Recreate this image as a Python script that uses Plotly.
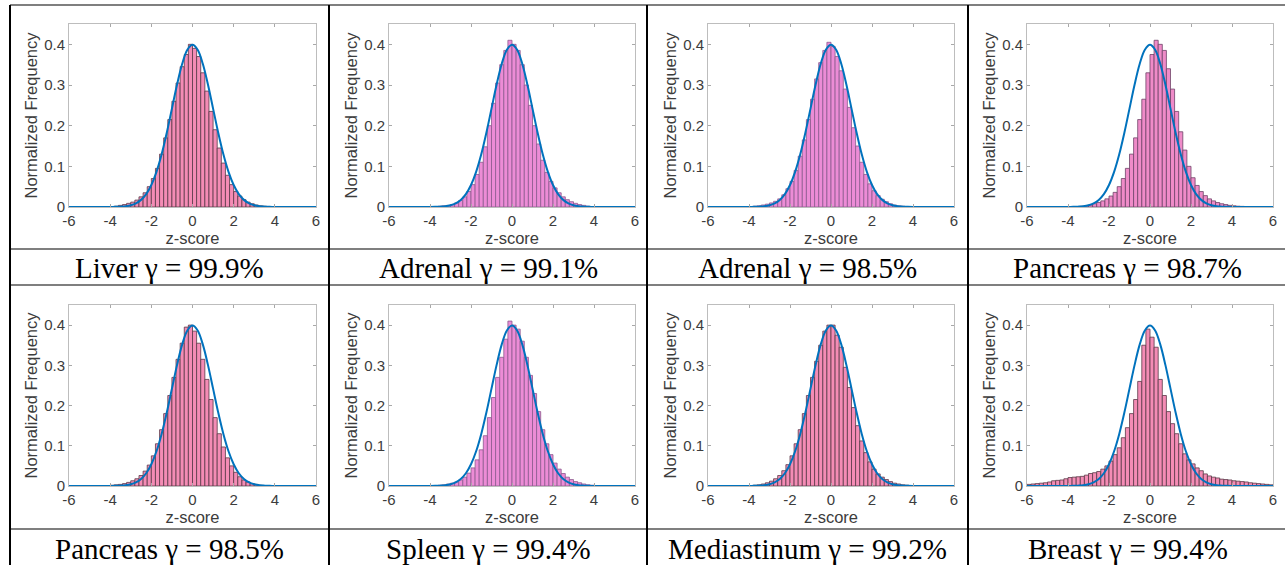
import plotly.graph_objects as go

# ---------------- data ----------------
bin_centers = [-5.9, -5.7, -5.5, -5.3, -5.1, -4.9, -4.7, -4.5, -4.3, -4.1,
               -3.9, -3.7, -3.5, -3.3, -3.1, -2.9, -2.7, -2.5, -2.3, -2.1,
               -1.9, -1.7, -1.5, -1.3, -1.1, -0.9, -0.7, -0.5, -0.3, -0.1,
               0.1, 0.3, 0.5, 0.7, 0.9, 1.1, 1.3, 1.5, 1.7, 1.9,
               2.1, 2.3, 2.5, 2.7, 2.9, 3.1, 3.3, 3.5, 3.7, 3.9,
               4.1, 4.3, 4.5, 4.7, 4.9, 5.1, 5.3, 5.5, 5.7, 5.9]

liver_999 = [0, 0, 0, 0, 0, 0, 0, 0,
             0, 0, 0.001, 0.002, 0.004, 0.006, 0.009, 0.012, 0.017, 0.025, 0.035, 0.05,
             0.07, 0.095, 0.13, 0.17, 0.215, 0.26, 0.305, 0.345, 0.375, 0.40,
             0.39, 0.37, 0.33, 0.285, 0.235, 0.19, 0.145, 0.108, 0.078, 0.055,
             0.038, 0.027, 0.018, 0.012, 0.008, 0.005, 0.003, 0.002, 0.001, 0, 0, 0,
             0, 0, 0, 0, 0, 0, 0, 0]

adrenal_991 = [0, 0, 0, 0, 0, 0, 0, 0,
               0, 0, 0, 0.001, 0.002, 0.003, 0.004, 0.006, 0.01, 0.016, 0.025, 0.038,
               0.055, 0.08, 0.11, 0.148, 0.20, 0.255, 0.305, 0.35, 0.385, 0.41,
               0.40, 0.385, 0.35, 0.30, 0.25, 0.20, 0.155, 0.115, 0.085, 0.063,
               0.047, 0.035, 0.025, 0.018, 0.013, 0.009, 0.006, 0.004, 0.002, 0.001, 0.001, 0,
               0, 0, 0, 0, 0, 0, 0, 0]

adrenal_985 = [0, 0, 0, 0, 0, 0, 0, 0,
               0, 0.001, 0.001, 0.002, 0.003, 0.005, 0.007, 0.01, 0.014, 0.02, 0.03, 0.045,
               0.063, 0.09, 0.125, 0.165, 0.215, 0.265, 0.315, 0.355, 0.385, 0.405,
               0.395, 0.37, 0.335, 0.29, 0.245, 0.195, 0.15, 0.11, 0.08, 0.057,
               0.04, 0.028, 0.019, 0.013, 0.008, 0.005, 0.003, 0.002, 0.001, 0, 0, 0,
               0, 0, 0, 0, 0, 0, 0, 0]

pancreas_987 = [0, 0, 0, 0, 0, 0, 0, 0,
                0, 0, 0, 0, 0.001, 0.002, 0.003, 0.005, 0.008, 0.011, 0.015, 0.02,
                0.027, 0.036, 0.05, 0.07, 0.095, 0.13, 0.17, 0.215, 0.265, 0.33,
                0.375, 0.41, 0.40, 0.385, 0.34, 0.29, 0.235, 0.185, 0.14, 0.10,
                0.072, 0.053, 0.038, 0.028, 0.02, 0.015, 0.011, 0.008, 0.006, 0.004, 0.003, 0.002,
                0.0015, 0.001, 0.0005, 0, 0, 0, 0, 0]

pancreas_985 = [0, 0, 0, 0, 0, 0, 0, 0,
                0, 0.001, 0.002, 0.003, 0.004, 0.006, 0.009, 0.013, 0.018, 0.026, 0.037, 0.052,
                0.075, 0.105, 0.14, 0.18, 0.225, 0.27, 0.315, 0.355, 0.395, 0.40,
                0.385, 0.355, 0.315, 0.265, 0.215, 0.17, 0.13, 0.097, 0.07, 0.05,
                0.034, 0.023, 0.015, 0.01, 0.006, 0.004, 0.002, 0.001, 0, 0, 0, 0,
                0, 0, 0, 0, 0, 0, 0, 0]

spleen_994 = [0, 0, 0, 0, 0, 0, 0, 0,
              0, 0, 0.001, 0.001, 0.002, 0.003, 0.005, 0.007, 0.01, 0.015, 0.022, 0.032,
              0.045, 0.065, 0.09, 0.125, 0.17, 0.22, 0.27, 0.32, 0.365, 0.41,
              0.40, 0.39, 0.36, 0.32, 0.275, 0.23, 0.185, 0.14, 0.105, 0.078,
              0.057, 0.042, 0.031, 0.022, 0.016, 0.011, 0.008, 0.005, 0.003, 0.002, 0.001, 0,
              0, 0, 0, 0, 0, 0, 0, 0]

mediastinum_992 = [0, 0, 0, 0, 0, 0, 0, 0,
                   0, 0, 0.001, 0.002, 0.003, 0.005, 0.008, 0.012, 0.018, 0.026, 0.038, 0.053,
                   0.075, 0.105, 0.14, 0.18, 0.225, 0.27, 0.31, 0.35, 0.385, 0.40,
                   0.40, 0.375, 0.345, 0.295, 0.245, 0.195, 0.15, 0.112, 0.083, 0.06,
                   0.042, 0.03, 0.022, 0.016, 0.011, 0.007, 0.005, 0.003, 0.002, 0.001, 0, 0,
                   0, 0, 0, 0, 0, 0, 0, 0]

breast_994 = [0.004, 0.005, 0.006, 0.007, 0.008, 0.01, 0.013, 0.014, 0.015, 0.018,
              0.021, 0.022, 0.023, 0.024, 0.027, 0.031, 0.033, 0.036, 0.042, 0.05,
              0.062, 0.078, 0.095, 0.12, 0.145, 0.18, 0.215, 0.26, 0.35, 0.39,
              0.37, 0.345, 0.265, 0.225, 0.185, 0.155, 0.13, 0.105, 0.08, 0.065,
              0.055, 0.045, 0.038, 0.03, 0.025, 0.022, 0.02, 0.017, 0.016, 0.015,
              0.013, 0.012, 0.011, 0.01, 0.008, 0.007, 0.006, 0.005, 0.004, 0.003]

curve_z = [-6.0, -5.75, -5.5, -5.25, -5.0, -4.75, -4.5, -4.25, -4.0, -3.75,
           -3.5, -3.25, -3.0, -2.75, -2.5, -2.25, -2.0, -1.75, -1.5, -1.25,
           -1.0, -0.75, -0.5, -0.25, 0.0, 0.25, 0.5, 0.75, 1.0, 1.25,
           1.5, 1.75, 2.0, 2.25, 2.5, 2.75, 3.0, 3.25, 3.5, 3.75,
           4.0, 4.25, 4.5, 4.75, 5.0, 5.25, 5.5, 5.75, 6.0]
curve_pdf = [0, 0, 0, 0, 0, 0, 0, 0, 0.0001, 0.0004,
             0.0009, 0.0020, 0.0044, 0.0091, 0.0175, 0.0317, 0.0540, 0.0863, 0.1295, 0.1826,
             0.2420, 0.3011, 0.3521, 0.3867, 0.3989, 0.3867, 0.3521, 0.3011, 0.2420, 0.1826,
             0.1295, 0.0863, 0.0540, 0.0317, 0.0175, 0.0091, 0.0044, 0.0020, 0.0009, 0.0004,
             0.0001, 0, 0, 0, 0, 0, 0, 0, 0]

captions = ["Liver \u03b3 = 99.9%", "Adrenal \u03b3 = 99.1%", "Adrenal \u03b3 = 98.5%",
            "Pancreas \u03b3 = 98.7%", "Pancreas \u03b3 = 98.5%", "Spleen \u03b3 = 99.4%",
            "Mediastinum \u03b3 = 99.2%", "Breast \u03b3 = 99.4%"]
panel_values = [liver_999, adrenal_991, adrenal_985, pancreas_987,
                pancreas_985, spleen_994, mediastinum_992, breast_994]

x_ticks = [-6, -4, -2, 0, 2, 4, 6]
x_ticktext = ["-6", "-4", "-2", "0", "2", "4", "6"]
y_ticks = [0, 0.1, 0.2, 0.3, 0.4]
y_ticktext = ["0", "0.1", "0.2", "0.3", "0.4"]

for v in panel_values:
    assert len(v) == len(bin_centers)
assert len(curve_z) == len(curve_pdf)

# ---------------- styling / layout ----------------
W, H = 1285, 565
col_px = [(69, 316), (389, 635), (708, 954), (1027, 1273)]
row_px = [(24, 207), (305, 486)]
cell_x = [10, 329, 647, 968, 1287]
caption_y = [268, 549]
fills = ["#f48cb5", "#ec8cd6", "#ec8cd6", "#ef8bc8",
         "#f48cb5", "#ec8cd6", "#f48cb5", "#f48cb5"]
edges = ["#5a3848", "#8c5a8e", "#8c5a8e", "#6e4468",
         "#5a3848", "#8c5a8e", "#5a3848", "#5a3848"]

tick_font = dict(family="Liberation Sans, Arial, sans-serif", size=15, color="#3c3c3c")
title_font = dict(family="Liberation Sans, Arial, sans-serif", size=16.5, color="#3c3c3c")

fig = go.Figure()
layout_axes = {}
annotations = []
for i, vals in enumerate(panel_values):
    r, c = divmod(i, 4)
    n = i + 1
    xa = "x" if n == 1 else f"x{n}"
    ya = "y" if n == 1 else f"y{n}"
    fig.add_trace(go.Bar(x=bin_centers, y=vals, width=0.2,
                         marker=dict(color=fills[i], line=dict(color=edges[i], width=0.8)),
                         xaxis=xa, yaxis=ya, showlegend=False, hoverinfo="skip"))
    fig.add_trace(go.Scatter(x=curve_z, y=curve_pdf, mode="lines",
                             line=dict(color="#0072BD", width=2, shape="spline"),
                             xaxis=xa, yaxis=ya, showlegend=False, hoverinfo="skip"))
    x0, x1 = col_px[c]
    y0, y1 = row_px[r]
    common = dict(ticks="inside", ticklen=3, tickcolor="#a8a8a8", showline=True,
                  linecolor="#bdbdbd", linewidth=1, mirror="ticks", showgrid=False,
                  zeroline=False, automargin=False, tickfont=tick_font)
    layout_axes["xaxis" if n == 1 else f"xaxis{n}"] = dict(
        domain=[x0 / W, x1 / W], anchor=ya, range=[-6, 6],
        tickvals=x_ticks, ticktext=x_ticktext,
        title=dict(text="z-score", font=title_font, standoff=2), **common)
    layout_axes["yaxis" if n == 1 else f"yaxis{n}"] = dict(
        domain=[1 - y1 / H, 1 - y0 / H], anchor=xa, range=[0, 0.45],
        tickvals=y_ticks, ticktext=y_ticktext,
        title=dict(text="Normalized Frequency", font=title_font, standoff=2), **common)
    annotations.append(dict(
        text=captions[i], xref="paper", yref="paper",
        x=(cell_x[c] + cell_x[c + 1]) / 2 / W, y=1 - caption_y[r] / H,
        xanchor="center", yanchor="middle", showarrow=False,
        font=dict(family="Liberation Serif, Times New Roman, serif", size=29, color="#000000")))

shapes = []
for py in [5, 249, 285, 529]:
    shapes.append(dict(type="line", xref="paper", yref="paper",
                       x0=10 / W, x1=1.0, y0=1 - py / H, y1=1 - py / H,
                       line=dict(color="#000000", width=1.2)))
for px in cell_x[:4]:
    shapes.append(dict(type="line", xref="paper", yref="paper",
                       x0=px / W, x1=px / W, y0=1 - 5 / H, y1=0,
                       line=dict(color="#000000", width=2)))

fig.update_layout(width=W, height=H, margin=dict(l=0, r=0, t=0, b=0, autoexpand=False),
                  paper_bgcolor="white", plot_bgcolor="white",
                  annotations=annotations, shapes=shapes, **layout_axes)

post = ("document.documentElement.style.overflow='hidden';"
        "document.body.style.margin='0';document.body.style.padding='0';"
        "document.body.style.overflow='hidden';"
        "var d=document.querySelector('.plotly-graph-div');"
        "d.style.position='absolute';d.style.left='0px';d.style.top='0px';")
fig.write_html("out.html", config={"displayModeBar": False, "responsive": False},
               post_script=post)
